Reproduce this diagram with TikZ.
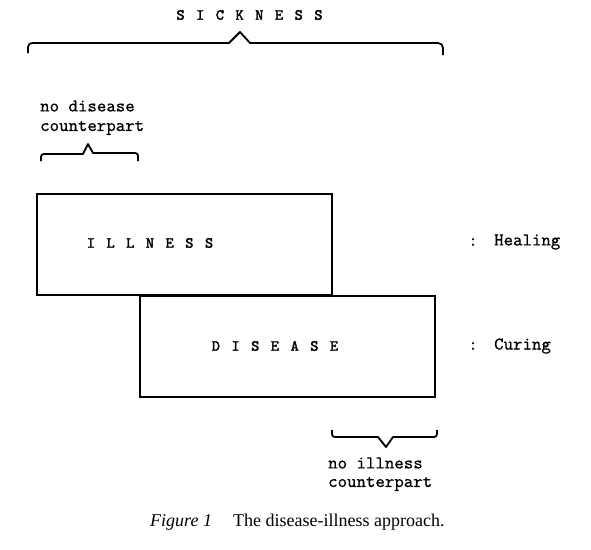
\documentclass[tikz,border=0pt]{standalone}
\usepackage{fontspec}
\setmainfont{Liberation Serif}
\newfontfamily\twcaps{lmmono10-regular}[Extension=.otf, FakeBold=2.2]
\newfontfamily\twlow{lmmono10-regular}[Extension=.otf, FakeBold=0.5]
\newcommand\lt[1]{\makebox[19.7pt]{#1}}
\begin{document}
\begin{tikzpicture}[x=1pt,y=-1pt,
  box/.style={draw, line width=1.8pt, minimum width=295pt, minimum height=101pt, inner sep=0pt},
  brace/.style={draw, line width=1.8pt, line join=round},
  caps/.style={inner sep=0pt, font=\twcaps\fontsize{15.5}{16}\selectfont},
  lower/.style={inner sep=0pt, font=\twlow\fontsize{18}{18}\selectfont},
  captext/.style={inner sep=0pt, font=\fontsize{18}{18}\selectfont}]
\useasboundingbox (0,0) rectangle (591,549);
% boxes
\node[box] (illness) at (184.5,244.5) {};
\node[box] (disease) at (287.5,346.5) {};
% box labels
\node[caps] (illnessT) at (150,243) {\lt{I}\lt{L}\lt{L}\lt{N}\lt{E}\lt{S}\lt{S}};
\node[caps] (diseaseT) at (275,346) {\lt{D}\lt{I}\lt{S}\lt{E}\lt{A}\lt{S}\lt{E}};
\node[caps] (sickT) at (249.5,15) {\lt{S}\lt{I}\lt{C}\lt{K}\lt{N}\lt{E}\lt{S}\lt{S}};
% side labels
\node[lower] (c1) at (473,242) {:};
\node[lower, anchor=west] (heal) at (494,242) {Healing};
\node[lower] (c2) at (473,346) {:};
\node[lower, anchor=west] (cure) at (494,346) {Curing};
% brace texts
\node[lower, anchor=west] (nd1) at (40,106) {no disease};
\node[lower, anchor=west] (nd2) at (40,128) {counterpart};
\node[lower, anchor=west] (ni1) at (328,463) {no illness};
\node[lower, anchor=west] (ni2) at (328,484) {counterpart};
% braces
\path[brace] (28,53) -- (28,47) .. controls (28,44) and (30,43) .. (33,43) -- (229,43) -- (240,32) -- (250,43) -- (438,43) .. controls (441,43) and (443,45) .. (443,48) -- (443,55);
\path[brace] (41,161) -- (41,157) .. controls (41,155) and (42,154) .. (44,154) -- (83,154) -- (88,144) -- (93,153) -- (135,153) .. controls (137,153) and (138,154) .. (138,156) -- (138,161);
\path[brace] (332,430) -- (332,434) .. controls (332,436) and (333,437) .. (335,437) -- (378,437) -- (386,447) -- (393,437) -- (434,437) .. controls (436,437) and (437,436) .. (437,434) -- (437,430);
% caption
\node[captext, anchor=west] (figT) at (150,522) {\itshape Figure 1};
\node[captext, anchor=west] (capT) at (233,522) {The disease-illness approach.};
\end{tikzpicture}
\end{document}
